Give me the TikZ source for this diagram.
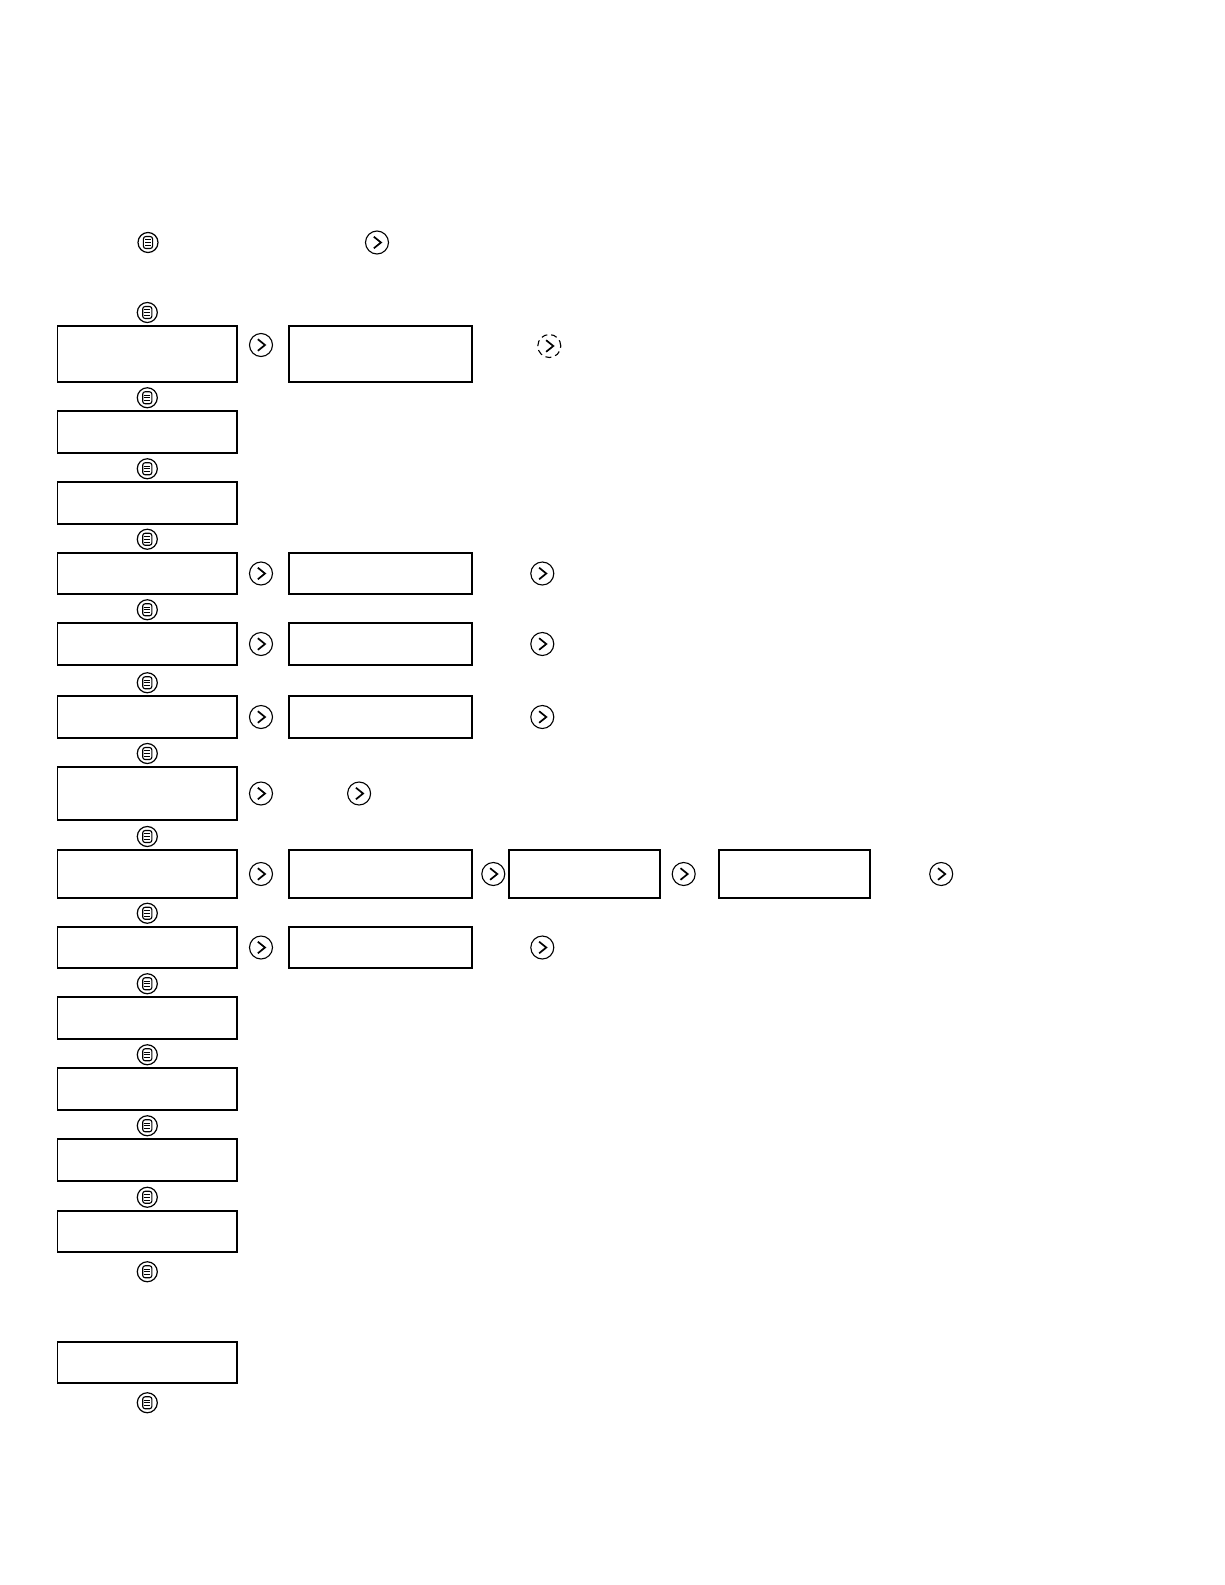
\documentclass[tikz,border=0pt]{standalone}
\usepackage{tikz}
\usetikzlibrary{positioning}

\tikzstyle{menubox} = [rectangle,
draw=black,
line width=0.9pt,
inner sep=0pt,
minimum width=89.75pt,
minimum height=20.75pt]
\tikzstyle{subbox} = [menubox,
minimum width=91.75pt]
\tikzstyle{smallbox} = [menubox,
minimum width=75.5pt]
\tikzstyle{menuicon} = [circle,
draw=black,
line width=0.6pt,
inner sep=0pt,
minimum size=10pt,
path picture={
  \draw[line width=0.55pt, rounded corners=1.2pt] ([shift={(-2.3pt,-3pt)}]path picture bounding box.center) rectangle ++(4.6pt,6pt);
  \foreach \dy in {-1.4pt,0pt,1.4pt}
    \draw[line width=0.4pt] ([shift={(-1.5pt,\dy)}]path picture bounding box.center) -- ++(3pt,0pt);
}]
\tikzstyle{nexticon} = [circle,
draw=black,
line width=0.55pt,
inner sep=0pt,
minimum size=11.5pt,
path picture={
  \draw[solid, line width=0.85pt] ([shift={(-1.6pt,2.9pt)}]path picture bounding box.center) -- ++(3.6pt,-2.9pt) -- ++(-3.6pt,-2.9pt);
}]

\begin{document}
\begin{tikzpicture}[x=0.5pt, y=-0.5pt]
    \useasboundingbox (0,0) rectangle (1225,1585);

    % top line
    \node (topmenu) [menuicon] at (148,242.5) {};
    \node (topnext) [nexticon] at (377,242.5) {};

    % main menu column
    \node (l1) [menubox, minimum height=28pt] at (147.3,354) {};
    \node (l2) [menubox] at (147.3,432) {};
    \node (l3) [menubox] at (147.3,503) {};
    \node (l4) [menubox] at (147.3,573.5) {};
    \node (l5) [menubox] at (147.3,644) {};
    \node (l6) [menubox] at (147.3,717) {};
    \node (l7) [menubox, minimum height=26.5pt] at (147.3,793.5) {};
    \node (l8) [menubox, minimum height=24pt] at (147.3,874) {};
    \node (l9) [menubox] at (147.3,947.5) {};
    \node (l10) [menubox] at (147.3,1018) {};
    \node (l11) [menubox] at (147.3,1089) {};
    \node (l12) [menubox] at (147.3,1160) {};
    \node (l13) [menubox] at (147.3,1231.5) {};
    \node (l14) [menubox] at (147.3,1362.5) {};

    % menu keys
    \foreach \n in {1,...,13}
        \node (mk\n) [menuicon, above=1pt of l\n] {};
    \node (mk13b) [menuicon, below=4pt of l13] {};
    \node (mk14b) [menuicon, below=4pt of l14] {};

    % row 1
    \node (a1) [nexticon, right=5.5pt of l1, yshift=4.5pt] {};
    \node (m1) [subbox, minimum height=28pt, right=25pt of l1] {};
    \node (b1) [nexticon, densely dashed, right=32pt of m1, yshift=4pt] {};

    % rows 4 to 6 and 9
    \foreach \n in {4,5,6,9} {
        \node (a\n) [nexticon, right=5.5pt of l\n] {};
        \node (m\n) [subbox, right=25pt of l\n] {};
        \node (b\n) [nexticon, right=28.5pt of m\n] {};
    }

    % row 7
    \node (a7) [nexticon, right=5.5pt of l7] {};
    \node (b7) [nexticon, right=37pt of a7] {};

    % row 8
    \node (a8) [nexticon, right=5.5pt of l8] {};
    \node (m8) [subbox, minimum height=24pt, right=25pt of l8] {};
    \node (b8) [nexticon, right=4pt of m8] {};
    \node (n8) [smallbox, minimum height=24pt, right=1.25pt of b8] {};
    \node (c8) [nexticon, right=5.5pt of n8] {};
    \node (o8) [smallbox, minimum height=24pt, right=11.3pt of c8] {};
    \node (d8) [nexticon, right=29pt of o8] {};

\end{tikzpicture}
\end{document}
